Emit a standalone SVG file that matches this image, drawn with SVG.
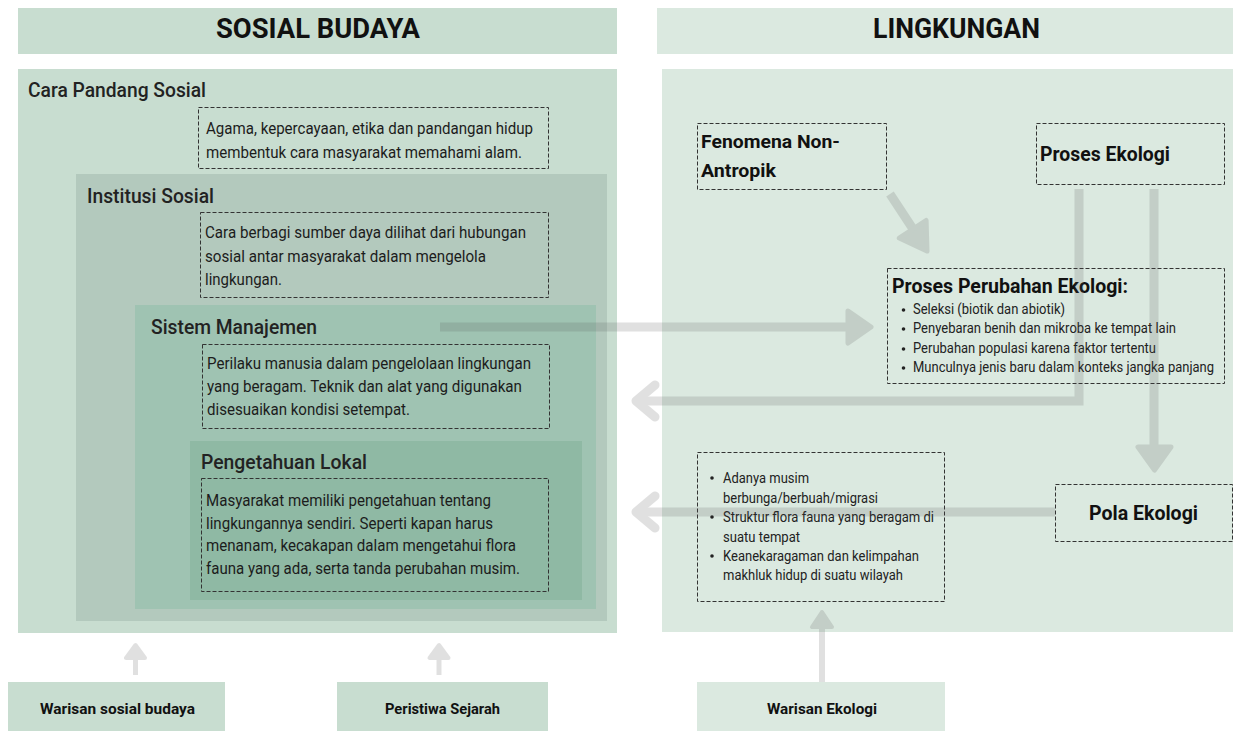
<svg xmlns="http://www.w3.org/2000/svg" width="1249" height="731" viewBox="0 0 1249 731">
<style>
  text { font-family: Roboto, "Liberation Sans", sans-serif; fill: #1c1c1c; }
  .hdr { font-size: 27px; font-weight: 700; fill: #111; }
  .ttl { font-size: 20px; font-weight: 500; fill: #222; }
  .body { font-size: 16px; fill: #1c1c1c; }
  .bold { font-weight: 700; fill: #111; }
  .bul { font-size: 14px; fill: #222; }
  .bot { font-size: 15px; font-weight: 700; fill: #111; }
  .dash { fill: none; stroke: #333; stroke-width: 1; stroke-dasharray: 4 2; }
  .c-left { fill: #c8ddd0; }
  .c-inst { fill: #b3c9bd; }
  .c-sis { fill: #9fc3b2; }
  .c-pen { fill: #8fb9a4; }
  .c-right { fill: #dbe9e0; }
  .shaft { fill: none; stroke: #505050; stroke-width: 9; stroke-linecap: butt; stroke-linejoin: miter; }
  .head { fill: #505050; stroke: #505050; stroke-width: 5; stroke-linejoin: round; }
  .chev { fill: none; stroke: #505050; stroke-width: 9; stroke-linecap: round; stroke-linejoin: round; }
</style>

<!-- Headers -->
<g id="header-sosial">
  <rect class="c-left" x="18" y="8" width="599" height="46"/>
  <text class="hdr" x="216" y="38" textLength="204" lengthAdjust="spacingAndGlyphs">SOSIAL BUDAYA</text>
</g>
<g id="header-lingkungan">
  <rect class="c-right" x="657" y="8" width="576" height="46"/>
  <text class="hdr" x="873" y="38" textLength="167" lengthAdjust="spacingAndGlyphs">LINGKUNGAN</text>
</g>

<!-- Left nested panels -->
<g id="cara-pandang-sosial">
  <rect class="c-left" x="18" y="69" width="599" height="564"/>
  <text class="ttl" x="28" y="97" textLength="178" lengthAdjust="spacingAndGlyphs">Cara Pandang Sosial</text>
  <rect class="dash" x="198.5" y="107.5" width="350" height="61"/>
  <text class="body" x="206" y="134" textLength="327" lengthAdjust="spacingAndGlyphs">Agama, kepercayaan, etika dan pandangan hidup</text>
  <text class="body" x="206" y="158" textLength="316" lengthAdjust="spacingAndGlyphs">membentuk cara masyarakat memahami alam.</text>
</g>
<g id="institusi-sosial">
  <rect class="c-inst" x="76" y="174" width="531" height="447"/>
  <text class="ttl" x="87" y="203" textLength="127" lengthAdjust="spacingAndGlyphs">Institusi Sosial</text>
  <rect class="dash" x="200.5" y="212.5" width="348" height="85"/>
  <text class="body" x="205" y="238" textLength="321" lengthAdjust="spacingAndGlyphs">Cara berbagi sumber daya dilihat dari hubungan</text>
  <text class="body" x="205" y="262" textLength="281" lengthAdjust="spacingAndGlyphs">sosial antar masyarakat dalam mengelola</text>
  <text class="body" x="205" y="285" textLength="77" lengthAdjust="spacingAndGlyphs">lingkungan.</text>
</g>
<g id="sistem-manajemen">
  <rect class="c-sis" x="135" y="305" width="461" height="304"/>
  <text class="ttl" x="151" y="334" textLength="166" lengthAdjust="spacingAndGlyphs">Sistem Manajemen</text>
  <rect class="dash" x="202.5" y="344.5" width="347" height="84"/>
  <text class="body" x="207" y="369" textLength="324" lengthAdjust="spacingAndGlyphs">Perilaku manusia dalam pengelolaan lingkungan</text>
  <text class="body" x="207" y="392" textLength="315" lengthAdjust="spacingAndGlyphs">yang beragam. Teknik dan alat yang digunakan</text>
  <text class="body" x="207" y="415" textLength="203" lengthAdjust="spacingAndGlyphs">disesuaikan kondisi setempat.</text>
</g>
<g id="pengetahuan-lokal">
  <rect class="c-pen" x="190" y="441" width="392" height="159"/>
  <text class="ttl" x="201" y="469" textLength="166" lengthAdjust="spacingAndGlyphs">Pengetahuan Lokal</text>
  <rect class="dash" x="201.5" y="478.5" width="347" height="113"/>
  <text class="body" x="206" y="506" textLength="285" lengthAdjust="spacingAndGlyphs">Masyarakat memiliki pengetahuan tentang</text>
  <text class="body" x="206" y="529" textLength="287" lengthAdjust="spacingAndGlyphs">lingkungannya sendiri. Seperti kapan harus</text>
  <text class="body" x="206" y="551" textLength="310" lengthAdjust="spacingAndGlyphs">menanam, kecakapan dalam mengetahui flora</text>
  <text class="body" x="206" y="574" textLength="314" lengthAdjust="spacingAndGlyphs">fauna yang ada, serta tanda perubahan musim.</text>
</g>

<!-- Right panel -->
<g id="lingkungan-panel">
  <rect class="c-right" x="662" y="69" width="571" height="563"/>
</g>
<g id="fenomena-non-antropik">
  <rect class="dash" x="697.5" y="123.5" width="189" height="66"/>
  <text class="bold" x="701" y="148" font-size="19" textLength="139" lengthAdjust="spacingAndGlyphs">Fenomena Non-</text>
  <text class="bold" x="701" y="177" font-size="19" textLength="75" lengthAdjust="spacingAndGlyphs">Antropik</text>
</g>
<g id="proses-ekologi">
  <rect class="dash" x="1036.5" y="123.5" width="188" height="61"/>
  <text class="bold" x="1040" y="161" font-size="19.5" textLength="130" lengthAdjust="spacingAndGlyphs">Proses Ekologi</text>
</g>
<g id="proses-perubahan-ekologi">
  <rect class="dash" x="887.5" y="268.5" width="337" height="115"/>
  <text class="bold" x="892" y="293" font-size="21" textLength="236" lengthAdjust="spacingAndGlyphs">Proses Perubahan Ekologi:</text>
  <circle cx="903.5" cy="310" r="1.8" fill="#222"/>
  <circle cx="903.5" cy="329" r="1.8" fill="#222"/>
  <circle cx="903.5" cy="349" r="1.8" fill="#222"/>
  <circle cx="903.5" cy="368" r="1.8" fill="#222"/>
  <text class="bul" x="913" y="314" textLength="152" lengthAdjust="spacingAndGlyphs">Seleksi (biotik dan abiotik)</text>
  <text class="bul" x="913" y="333" textLength="263" lengthAdjust="spacingAndGlyphs">Penyebaran benih dan mikroba ke tempat lain</text>
  <text class="bul" x="913" y="353" textLength="243" lengthAdjust="spacingAndGlyphs">Perubahan populasi karena faktor tertentu</text>
  <text class="bul" x="913" y="372" textLength="301" lengthAdjust="spacingAndGlyphs">Munculnya jenis baru dalam konteks jangka panjang</text>
</g>
<g id="pola-ekologi">
  <rect class="dash" x="1055.5" y="484.5" width="177" height="57"/>
  <text class="bold" x="1089" y="520" font-size="20.5" textLength="109" lengthAdjust="spacingAndGlyphs">Pola Ekologi</text>
</g>
<g id="ciri-pola-ekologi">
  <rect class="dash" x="697.5" y="452.5" width="247" height="149"/>
  <circle cx="712" cy="478" r="1.8" fill="#222"/>
  <circle cx="712" cy="517" r="1.8" fill="#222"/>
  <circle cx="712" cy="556" r="1.8" fill="#222"/>
  <text class="bul" x="723" y="483" textLength="86" lengthAdjust="spacingAndGlyphs">Adanya musim</text>
  <text class="bul" x="723" y="503" textLength="155" lengthAdjust="spacingAndGlyphs">berbunga/berbuah/migrasi</text>
  <text class="bul" x="723" y="522" textLength="211" lengthAdjust="spacingAndGlyphs">Struktur flora fauna yang beragam di</text>
  <text class="bul" x="723" y="542" textLength="77" lengthAdjust="spacingAndGlyphs">suatu tempat</text>
  <text class="bul" x="723" y="561" textLength="196" lengthAdjust="spacingAndGlyphs">Keanekaragaman dan kelimpahan</text>
  <text class="bul" x="723" y="580" textLength="180" lengthAdjust="spacingAndGlyphs">makhluk hidup di suatu wilayah</text>
</g>

<!-- Bottom source boxes -->
<g id="warisan-sosial-budaya">
  <rect class="c-left" x="8" y="682" width="217" height="49"/>
  <text class="bot" x="40" y="714" textLength="155" lengthAdjust="spacingAndGlyphs">Warisan sosial budaya</text>
</g>
<g id="peristiwa-sejarah">
  <rect class="c-left" x="337" y="682" width="211" height="49"/>
  <text class="bot" x="385" y="714" textLength="115" lengthAdjust="spacingAndGlyphs">Peristiwa Sejarah</text>
</g>
<g id="warisan-ekologi">
  <rect class="c-right" x="697" y="682" width="248" height="49"/>
  <text class="bot" x="767" y="714" textLength="110" lengthAdjust="spacingAndGlyphs">Warisan Ekologi</text>
</g>

<!-- Connectors -->
<g id="connectors" opacity="0.17">
  <!-- Sistem Manajemen -> Proses Perubahan Ekologi -->
  <path class="shaft" d="M440,327 H849"/>
  <path class="head" d="M848,311 L871,327 L848,343 Z"/>
  <!-- Fenomena -> Proses Perubahan Ekologi -->
  <path class="shaft" d="M890,194 L913,229"/>
  <path class="head" d="M926.1,220.5 L927,251 L899.3,238.1 Z"/>
  <!-- Proses Ekologi -> Sosial Budaya -->
  <path class="shaft" d="M1079,189 V401 H641"/>
  <polyline class="chev" points="655,385 636,401 655,417"/>
  <!-- Proses Ekologi -> Pola Ekologi -->
  <path class="shaft" d="M1154,189 V448"/>
  <path class="head" d="M1138,447 L1171,447 L1154.5,470 Z"/>
  <!-- Pola Ekologi -> Sosial Budaya -->
  <path class="shaft" d="M1055,512 H641"/>
  <polyline class="chev" points="655,496 636,512 655,528"/>
  <!-- Warisan Ekologi -> ciri pola -->
  <path class="shaft" style="stroke-width:6" d="M822,682 V626"/>
  <path class="head" style="stroke-width:4" d="M812,627 L832,627 L822,612 Z"/>
  <!-- Warisan sosial budaya -> Sosial Budaya -->
  <path class="shaft" style="stroke-width:5" d="M135.5,675 V657"/>
  <path class="head" style="stroke-width:4" d="M126,658 L145,658 L135.5,645 Z"/>
  <!-- Peristiwa Sejarah -> Sosial Budaya -->
  <path class="shaft" style="stroke-width:5" d="M439,675 V657"/>
  <path class="head" style="stroke-width:4" d="M429.5,658 L448.5,658 L439,645 Z"/>
</g>
</svg>
